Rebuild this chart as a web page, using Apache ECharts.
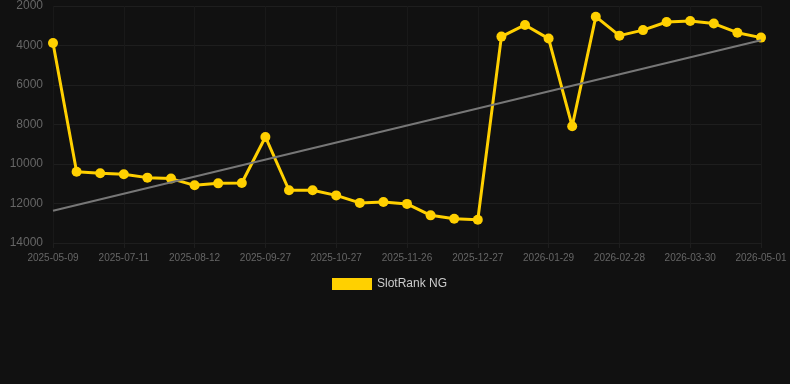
<!DOCTYPE html>
<html>
<head>
<meta charset="utf-8">
<script src="https://cdn.jsdelivr.net/npm/echarts@6/dist/echarts.min.js"></script>
<style>
  html, body { margin: 0; padding: 0; background: #111111; }
  #ECanvas { width: 790px; height: 384px; }
</style>
</head>
<body>
<div id="ECanvas"></div>
<script>
  var dates = [
    '2025-05-09', '2025-05-30', '2025-06-20', '2025-07-11', '2025-07-22', '2025-08-01',
    '2025-08-12', '2025-08-27', '2025-09-12', '2025-09-27', '2025-10-07', '2025-10-17',
    '2025-10-27', '2025-11-06', '2025-11-16', '2025-11-26', '2025-12-06', '2025-12-17',
    '2025-12-27', '2026-01-07', '2026-01-18', '2026-01-29', '2026-02-08', '2026-02-18',
    '2026-02-28', '2026-03-10', '2026-03-20', '2026-03-30', '2026-04-10', '2026-04-21',
    '2026-05-01'
  ];
  var ranks = [
    3870, 10390, 10470, 10520, 10690, 10740,
    11080, 10980, 10960, 8630, 11330, 11330,
    11590, 11970, 11920, 12020, 12600, 12770,
    12820, 3550, 2960, 3650, 8090, 2540,
    3500, 3220, 2810, 2760, 2890, 3350,
    3600
  ];
  // trend line end points (first and last category)
  var trendStart = 12370;
  var trendEnd = 3730;

  var yTicks = { min: 2000, max: 14000, step: 2000 };

  var chart = echarts.init(document.getElementById('ECanvas'));
  var option = {
    backgroundColor: '#111111',
    animation: false,
    grid: {
      left: 53,
      right: 29,
      top: 6,
      bottom: 141
    },
    legend: {
      data: ['SlotRank NG'],
      top: 278,
      left: 332,
      itemWidth: 40,
      itemHeight: 12,
      icon: 'rect',
      itemGap: 6,
      padding: 0,
      textStyle: {
        color: '#cccccc',
        fontSize: 12,
        fontFamily: 'Liberation Sans, Arial, sans-serif'
      }
    },
    xAxis: {
      type: 'category',
      data: dates,
      boundaryGap: false,
      axisLine: { show: false },
      axisTick: {
        show: true,
        interval: 2,
        lineStyle: { color: '#1e1e1e' }
      },
      axisLabel: {
        interval: 2,
        color: '#666666',
        fontSize: 10,
        margin: 10,
        fontFamily: 'Liberation Sans, Arial, sans-serif'
      },
      splitLine: {
        show: true,
        interval: 2,
        lineStyle: { color: '#191919' }
      }
    },
    yAxis: {
      type: 'value',
      inverse: true,
      min: yTicks.min,
      max: yTicks.max,
      interval: yTicks.step,
      axisLine: { show: false },
      axisTick: { show: false },
      axisLabel: {
        color: '#666666',
        fontSize: 12,
        margin: 10,
        fontFamily: 'Liberation Sans, Arial, sans-serif',
        formatter: function (v) { return String(v); }
      },
      splitLine: {
        lineStyle: { color: '#1e1e1e' }
      }
    },
    series: [
      {
        name: 'SlotRank NG',
        type: 'line',
        data: ranks,
        symbol: 'circle',
        symbolSize: 10,
        z: 3,
        itemStyle: { color: '#ffd000' },
        lineStyle: { color: '#ffd000', width: 3 },
        markLine: {
          silent: true,
          symbol: ['none', 'none'],
          label: { show: false },
          lineStyle: { color: '#777777', width: 2, type: 'solid' },
          data: [
            [
              { coord: [dates[0], trendStart] },
              { coord: [dates[dates.length - 1], trendEnd] }
            ]
          ]
        }
      }
    ]
  };
  chart.setOption(option);
</script>
</body>
</html>
